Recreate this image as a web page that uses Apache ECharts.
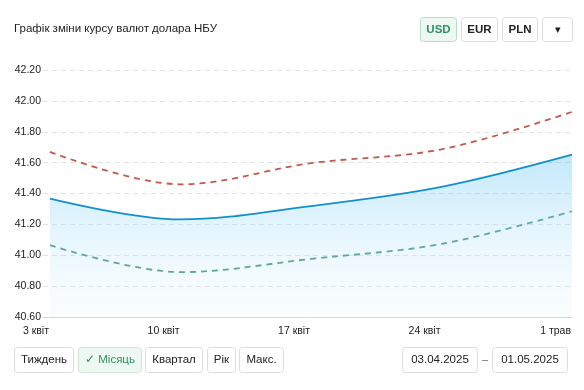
<!DOCTYPE html>
<html>
<head>
<meta charset="utf-8">
<script src="https://cdn.jsdelivr.net/npm/echarts@6/dist/echarts.min.js"></script>
<style>
html,body{margin:0;padding:0;background:#fff;}
#c{width:584px;height:390px;}
</style>
</head>
<body>
<div id="c"></div>
<script>
// ---- data ----
var dates = ['2025-04-03', '2025-04-10', '2025-04-17', '2025-04-24', '2025-05-01'];
var tickLabels = ['3 квіт', '10 квіт', '17 квіт', '24 квіт', '1 трав'];
var rate = [41.367, 41.232, 41.319, 41.443, 41.652];
var upper = [41.671, 41.460, 41.597, 41.687, 41.930];
var lower = [41.065, 40.890, 40.976, 41.073, 41.285];
var yMin = 40.6, yMax = 42.2, yStep = 0.2;
var titleText = 'Графік зміни курсу валют долара НБУ';
var currencies = ['USD', 'EUR', 'PLN'];
var periods = ['Тиждень', '✓ Місяць', 'Квартал', 'Рік', 'Макс.'];
var dateFrom = '03.04.2025', dateTo = '01.05.2025';

var FONT = '"Liberation Sans", Arial, sans-serif';
var day0 = Date.parse(dates[0] + 'T00:00:00Z');
function dayOf(d) { return (Date.parse(d + 'T00:00:00Z') - day0) / 86400000; }
var xs = dates.map(dayOf);
function pairs(arr) { return arr.map(function (v, i) { return [xs[i], v]; }); }

function button(x, y, w, h, label, opt) {
  opt = opt || {};
  return {
    type: 'group', x: x, y: y,
    children: [
      { type: 'rect', shape: { x: 0.5, y: 0.5, width: w - 1, height: h - 1, r: 3 },
        style: { fill: opt.fill || '#fff', stroke: opt.stroke || '#dcdcdc', lineWidth: 1 } },
      { type: 'text', x: w / 2, y: h / 2,
        style: { text: label, fill: opt.color || '#222', font: (opt.bold ? 'bold ' : '') + (opt.size || 11) + 'px ' + FONT,
          align: 'center', verticalAlign: 'middle' } }
    ]
  };
}

var graphics = [
  { type: 'text', left: 14, top: 23, style: { text: titleText, fill: '#222', font: '11.5px ' + FONT } }
];
var topBtns = [[420, 37], [461, 37], [502, 36]];
currencies.forEach(function (c, i) {
  var active = i === 0;
  graphics.push(button(topBtns[i][0], 17, topBtns[i][1], 25, c,
    { bold: true, size: 11.5, fill: active ? '#eef8f2' : '#fff', stroke: active ? '#b9dcc7' : '#dcdcdc', color: active ? '#2f8f5f' : '#222' }));
});
graphics.push(button(542, 17, 31, 25, '▾', { size: 11, color: '#222' }));
var botBtns = [[14, 60], [78, 64], [145, 58], [207, 29], [239, 45]];
periods.forEach(function (p, i) {
  var active = i === 1;
  graphics.push(button(botBtns[i][0], 347, botBtns[i][1], 26, p,
    { size: 11.5, fill: active ? '#eef8f2' : '#fff', stroke: active ? '#cfe6d8' : '#dcdcdc', color: active ? '#2f8f5f' : '#222' }));
});
graphics.push(button(402, 347, 76, 26, dateFrom, { size: 11.5 }));
graphics.push({ type: 'text', x: 485, y: 360, style: { text: '–', fill: '#666', font: '11px ' + FONT, align: 'center', verticalAlign: 'middle' } });
graphics.push(button(492, 347, 76, 26, dateTo, { size: 11.5 }));

var chart = echarts.init(document.getElementById('c'), null, { renderer: 'canvas' });
chart.setOption({
  animation: false,
  grid: { left: 43, right: 12, top: 70.3, bottom: 73.2, containLabel: false },
  xAxis: {
    type: 'value',
    min: -0.375, max: xs[xs.length - 1],
    axisLine: { show: true, lineStyle: { color: '#d6d6d6', width: 1 } },
    axisTick: { show: false },
    splitLine: { show: false },
    axisLabel: {
      customValues: xs,
      formatter: function (v) { var i = xs.indexOf(v); return i >= 0 ? tickLabels[i] : ''; },
      align: 'right', margin: 9, color: '#222', fontSize: 10.5, fontFamily: FONT,
      padding: [0, 1, 0, 0]
    }
  },
  yAxis: {
    type: 'value', min: yMin, max: yMax, interval: yStep,
    axisLine: { show: false }, axisTick: { show: false },
    axisLabel: { formatter: function (v) { return v.toFixed(2); }, color: '#222', fontSize: 10.5, fontFamily: FONT, margin: 2 },
    splitLine: { lineStyle: { color: '#e2e2e2', type: [5, 4], width: 1 } }
  },
  series: [
    { type: 'line', data: pairs(rate), smooth: 0.35, symbol: 'none', z: 3,
      lineStyle: { color: '#1290cc', width: 1.8 },
      areaStyle: { origin: 'start', color: new echarts.graphic.LinearGradient(0, 0, 0, 1, [
        { offset: 0, color: 'rgba(110,200,245,0.6)' }, { offset: 1, color: 'rgba(200,235,250,0.1)' }]) } },
    { type: 'line', data: pairs(upper), smooth: 0.35, symbol: 'none', z: 2,
      lineStyle: { color: '#c4584b', width: 1.8, type: [6, 5] } },
    { type: 'line', data: pairs(lower), smooth: 0.35, symbol: 'none', z: 2,
      lineStyle: { color: '#4c998a', width: 1.8, type: [6, 5] } }
  ],
  graphic: graphics
});
</script>
</body>
</html>
